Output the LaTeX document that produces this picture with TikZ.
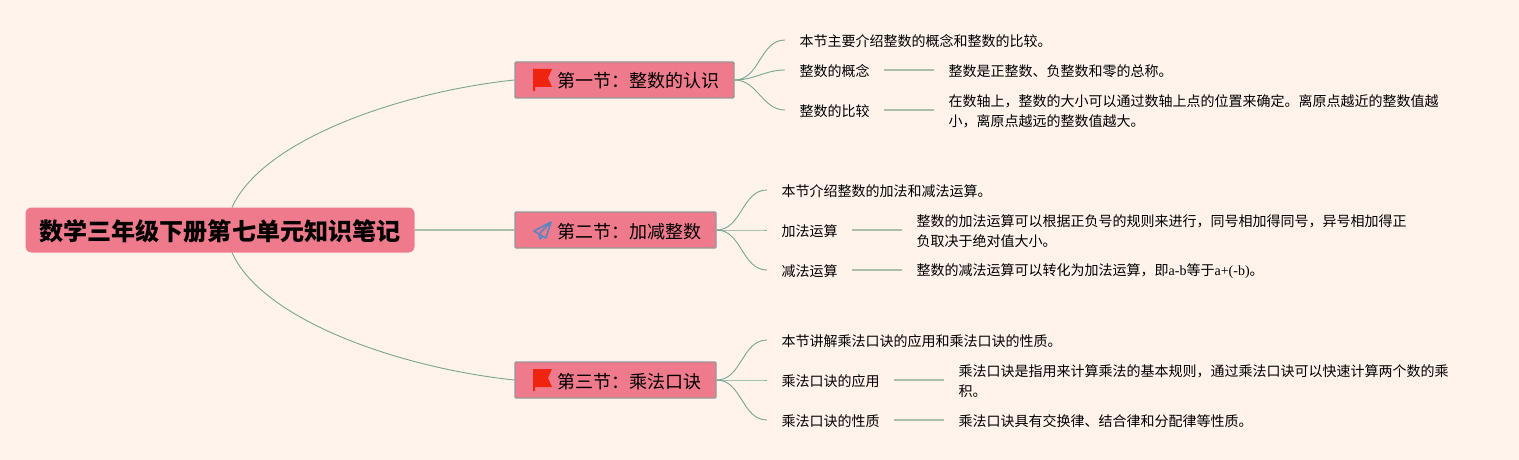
\documentclass[tikz,border=0pt]{standalone}
\usepackage{fontspec}
\setmainfont{Noto Sans CJK SC}
\newfontfamily\latinfont{Liberation Serif}
\definecolor{pagebg}{HTML}{FFF3EC}
\definecolor{boxfill}{HTML}{EE7A8C}
\definecolor{boxline}{HTML}{989896}
\definecolor{linkgreen}{HTML}{A9BFA8}
\definecolor{branchgreen}{HTML}{78A690}
\definecolor{flagred}{HTML}{F0230F}
\definecolor{planeblue}{HTML}{5B86C4}
\tikzset{
	rootbox/.style = {rectangle, rounded corners = 6pt, fill = boxfill, minimum width = 389pt, minimum height = 45pt, text height = 21.5pt, text depth = 0pt, font = \fontsize{24.1pt}{28pt}\selectfont\bfseries, inner sep = 0pt},
	secbox/.style = {rectangle, rounded corners = 1pt, draw = boxline, line width = 1.3pt, fill = boxfill, minimum height = 36pt, text height = 16pt, text depth = 0pt, font = \fontsize{18pt}{22pt}\selectfont, inner sep = 0pt},
	leaf/.style = {anchor = west, inner xsep = 14.5pt, inner ysep = 2pt, font = \fontsize{14pt}{20pt}\selectfont, align = left},
	link/.style = {linkgreen, line width = 1.3pt},
	branch/.style = {branchgreen, line width = 0.9pt},
}
\begin{document}
\begin{tikzpicture}[x = 1pt, y = -1pt]
		\useasboundingbox [fill = pagebg] (0, 0) rectangle (1519, 460);
		%%%%%%%%%%%%%
		\node [rootbox] (root) at (220, 230) {数学三年级下册第七单元知识笔记};
		\node [secbox, minimum width = 219pt] (sa) at (624.5, 80) {\hspace*{28pt}第一节：整数的认识};
		\node [secbox, minimum width = 201pt] (sb) at (615.5, 230) {\hspace*{28pt}第二节：加减整数};
		\node [secbox, minimum width = 201pt] (sc) at (615.5, 380) {\hspace*{28pt}第三节：乘法口诀};
		%%%%%%%%%%%%%
		\node [leaf] (sa1) at (785, 41) {本节主要介绍整数的概念和整数的比较。};
		\node [leaf] (sa2) at (785, 71) {整数的概念};
		\node [leaf] (sa2d) at (934, 71) {整数是正整数、负整数和零的总称。};
		\node [leaf] (sa3) at (785, 111) {整数的比较};
		\node [leaf] (sa3d) at (934, 111) {在数轴上，整数的大小可以通过数轴上点的位置来确定。离原点越近的整数值越\\小，离原点越远的整数值越大。};
		%%%%%%%%%%%%%
		\node [leaf] (sb1) at (767, 191) {本节介绍整数的加法和减法运算。};
		\node [leaf] (sb2) at (767, 231) {加法运算};
		\node [leaf] (sb2d) at (902, 231) {整数的加法运算可以根据正负号的规则来进行，同号相加得同号，异号相加得正\\负取决于绝对值大小。};
		\node [leaf] (sb3) at (767, 271) {减法运算};
		\node [leaf] (sb3d) at (902, 271) {整数的减法运算可以转化为加法运算，即{\latinfont a-b}等于{\latinfont a+(-b)}。};
		%%%%%%%%%%%%%
		\node [leaf] (sc1) at (767, 341) {本节讲解乘法口诀的应用和乘法口诀的性质。};
		\node [leaf] (sc2) at (767, 381) {乘法口诀的应用};
		\node [leaf] (sc2d) at (944, 381) {乘法口诀是指用来计算乘法的基本规则，通过乘法口诀可以快速计算两个数的乘\\积。};
		\node [leaf] (sc3) at (767, 421) {乘法口诀的性质};
		\node [leaf] (sc3d) at (944, 421) {乘法口诀具有交换律、结合律和分配律等性质。};
		%%%%%%%%%%%%%
		\draw [branch] (232, 207.5) .. controls (262, 140) and (400, 92) .. (sa.west);
		\draw [branch] (232, 252.5) .. controls (262, 320) and (400, 368) .. (sc.west);
		\draw [link] (root) to (sb);
		%%%%%%%%%%%%%
		\foreach \leafname in {sa1, sa2, sa3}
			\draw [branch] (sa.east) to [out = 0, in = 180] ([yshift = 1pt]\leafname.west);
		\foreach \leafname in {sb1, sb2, sb3}
			\draw [branch] (sb.east) to [out = 0, in = 180] ([yshift = 1pt]\leafname.west);
		\foreach \leafname in {sc1, sc2, sc3}
			\draw [branch] (sc.east) to [out = 0, in = 180] ([yshift = 1pt]\leafname.west);
		%%%%%%%%%%%%%
		\foreach \leafname/\descname in {sa2/sa2d, sa3/sa3d, sb2/sb2d, sb3/sb3d, sc2/sc2d, sc3/sc3d}
			\draw [link] ([yshift = 1pt]\leafname.east) to ([yshift = 1pt]\descname.west);
		%%%%%%%%%%%%%
		\fill [flagred] (533, 69) -- (552, 69) -- (548, 78) -- (552, 87) -- (535, 87) -- (535, 91) -- (533, 91) -- cycle;
		\fill [flagred] (533, 369) -- (552, 369) -- (548, 378) -- (552, 387) -- (535, 387) -- (535, 391) -- (533, 391) -- cycle;
		\draw [planeblue, line width = 1.6pt, line join = round] (551, 222) -- (534, 231) -- (539, 234) -- (551, 222) -- (546, 238) -- (539, 234) -- (540, 239) -- (543, 236);
\end{tikzpicture}
\end{document}
